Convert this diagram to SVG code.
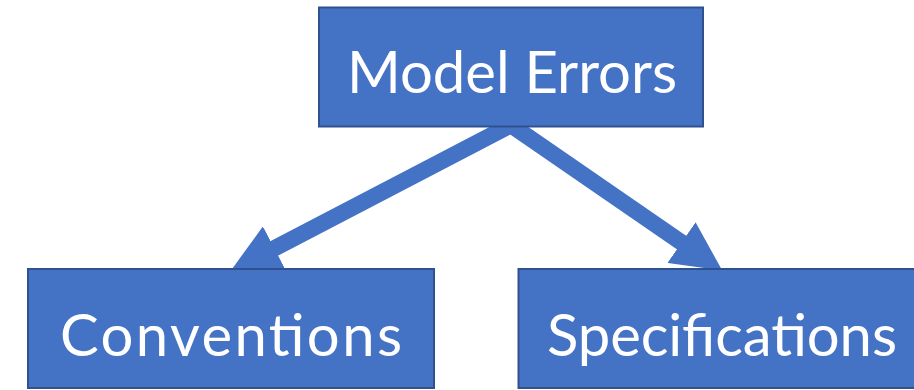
<svg xmlns="http://www.w3.org/2000/svg" width="914" height="390" viewBox="0 0 914 390">
  <style>
    .box { fill: #4472C4; stroke: #2F528F; stroke-width: 2; }
    .label { fill: #FFFFFF; font-family: Lato, "Open Sans", "Liberation Sans", sans-serif; font-size: 58px; text-anchor: middle; }
    .conn { stroke: #4472C4; stroke-width: 16.5; fill: none; marker-end: url(#head); }
  </style>
  <defs>
    <marker id="head" viewBox="0 0 3 3" markerWidth="3" markerHeight="3" refX="0.05" refY="1.5" orient="auto" markerUnits="strokeWidth">
      <path d="M0,0 L3,1.5 L0,3 Z" fill="#4472C4"/>
    </marker>
  </defs>
  <rect width="914" height="390" fill="#FFFFFF"/>
  <g id="connectors">
    <line class="conn" x1="511" y1="125" x2="273.6" y2="248.7"/>
    <line class="conn" x1="511" y1="125" x2="682.2" y2="243"/>
  </g>
  <g id="node-model-errors">
    <rect class="box" x="319" y="7.5" width="384" height="119"/>
    <text class="label" x="512" y="92.5" textLength="330" lengthAdjust="spacing">Model Errors</text>
  </g>
  <g id="node-conventions">
    <rect class="box" x="28" y="269" width="406" height="119"/>
    <text class="label" x="231" y="356" textLength="342" lengthAdjust="spacing">Conventions</text>
  </g>
  <g id="node-specifications">
    <rect class="box" x="518.5" y="269" width="408" height="119"/>
    <text class="label" x="722" y="355.5" textLength="350" lengthAdjust="spacing">Specifications</text>
  </g>
</svg>
